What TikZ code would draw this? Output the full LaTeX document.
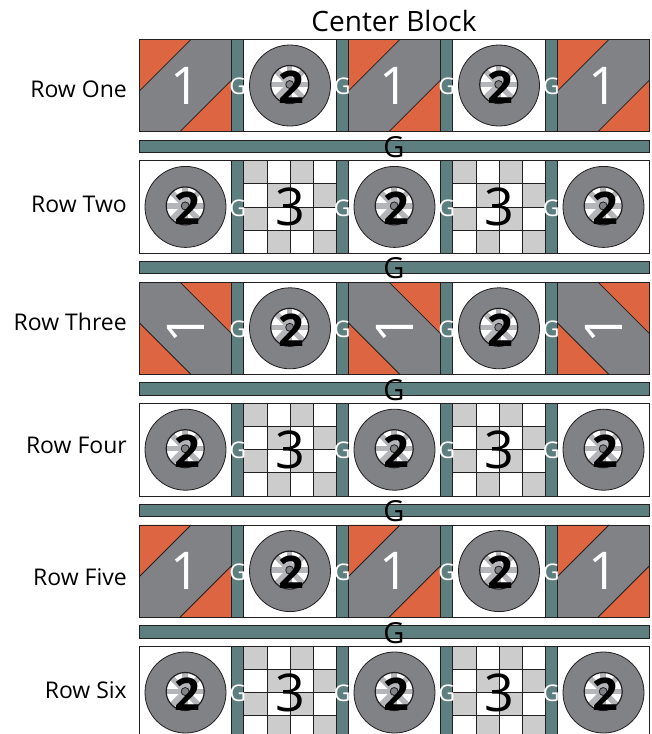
\documentclass[tikz,border=0pt]{standalone}
\usepackage{fontspec}
\setmainfont{Open Sans}
\definecolor{qgray}{RGB}{128,130,133}
\definecolor{qorange}{RGB}{222,101,65}
\definecolor{qteal}{RGB}{94,127,128}
\definecolor{qlight}{RGB}{204,204,204}
\definecolor{qspoke}{RGB}{180,181,184}
\definecolor{qline}{RGB}{35,31,32}
\tikzset{
  edge/.style={draw=qline,line width=0.8pt},
  one/.style={text=white,font=\fontsize{52}{52}\selectfont,inner sep=0pt},
  three/.style={text=black,font=\fontsize{52}{52}\selectfont,inner sep=0pt},
  two/.style={text=black,font=\fontsize{45}{45}\selectfont\bfseries,inner sep=0pt},
  gv/.style={text=white,font=\fontsize{23}{23}\selectfont,inner sep=0pt},
  gh/.style={text=black,font=\fontsize{29}{29}\selectfont,inner sep=0pt},
  lab/.style={text=black,font=\fontsize{23}{23}\selectfont,inner sep=0pt,anchor=east},
  ttl/.style={text=black,font=\fontsize{28}{28}\selectfont,inner sep=0pt,anchor=base},
}
\def\X{139.3}\def\BW{92.4}\def\SW{12.1}\def\Y{39.3}\def\RP{121.4}
% block 1, orientation A
\newcommand\blkA[1]{%
  \fill[qgray] (0,0) rectangle (\BW,\BW);
  \fill[qorange] (0,0) -- (0.56*\BW,0) -- (0,0.56*\BW) -- cycle;
  \fill[qorange] (\BW,\BW) -- (0.44*\BW,\BW) -- (\BW,0.44*\BW) -- cycle;
  \draw[edge] (0.56*\BW,0) -- (0,0.56*\BW);
  \draw[edge] (0.44*\BW,\BW) -- (\BW,0.44*\BW);
  \draw[edge] (0,0) rectangle (\BW,\BW);
  \node[one] (#1) at (0.5*\BW,0.5*\BW) {1};}
% block 1, orientation B (rotated)
\newcommand\blkB[1]{%
  \fill[qgray] (0,0) rectangle (\BW,\BW);
  \fill[qorange] (\BW,0) -- (0.44*\BW,0) -- (\BW,0.56*\BW) -- cycle;
  \fill[qorange] (0,\BW) -- (0,0.44*\BW) -- (0.56*\BW,\BW) -- cycle;
  \draw[edge] (0.44*\BW,0) -- (\BW,0.56*\BW);
  \draw[edge] (0,0.44*\BW) -- (0.56*\BW,\BW);
  \draw[edge] (0,0) rectangle (\BW,\BW);
  \node[one,rotate=90] (#1) at (0.5*\BW,0.5*\BW) {1};}
% block 2
\newcommand\blkT[1]{%
  \fill[white] (0,0) rectangle (\BW,\BW);
  \draw[edge] (0,0) rectangle (\BW,\BW);
  \draw[edge,fill=qgray] (0.5*\BW,0.5*\BW) circle[radius=40.5pt];
  \begin{scope}[shift={(0.5*\BW-0.3,0.5*\BW-1)}]
    \begin{scope}
      \clip (0,0) circle[radius=19pt];
      \fill[white] (0,0) circle[radius=19pt];
      \foreach \a in {0,45,90,135}
        \draw[qspoke,line width=5.5pt] (\a:20pt) -- (\a+180:20pt);
    \end{scope}
    \draw[qline,line width=1.2pt] (0,0) circle[radius=19pt];
    \draw[edge,fill=qgray] (0,0) circle[radius=4pt];
  \end{scope}
  \node[two] (#1) at (0.5*\BW+1.5,0.5*\BW+1.5) {2};}
% block 3
\newcommand\blkC[1]{%
  \fill[white] (0,0) rectangle (\BW,\BW);
  \foreach \r in {0,...,3}{\foreach \c in {0,...,3}{%
    \pgfmathtruncatemacro\pp{mod(\r+\c,2)}%
    \ifnum\pp=0 \fill[qlight] (\c*\BW/4,\r*\BW/4) rectangle (\c*\BW/4+\BW/4,\r*\BW/4+\BW/4);\fi}}
  \foreach \k in {1,2,3}{%
    \draw[edge] (\k*\BW/4,0) -- (\k*\BW/4,\BW);
    \draw[edge] (0,\k*\BW/4) -- (\BW,\k*\BW/4);}
  \draw[edge] (0,0) rectangle (\BW,\BW);
  \node[three] (#1) at (0.5*\BW,0.5*\BW) {3};}
\begin{document}
\begin{tikzpicture}[x=1pt,y=-1pt]
\useasboundingbox (0,0) rectangle (652,734);
\clip (0,0) rectangle (652,734);
\fill[white] (0,0) rectangle (652,734);
\node[ttl] (title) at (394,31) {Center Block};
\foreach \r/\kind/\lbl/\ly in {0/A/Row One/89,1/C/Row Two/204,2/B/Row Three/322,3/C/Row Four/445,4/A/Row Five/577,5/C/Row Six/690}{
  \pgfmathsetmacro\ry{\Y+\r*\RP}
  \node[lab] (label\r) at (127,\ly) {\lbl};
  \foreach \c in {0,...,4}{
    \pgfmathsetmacro\cx{\X+\c*(\BW+\SW)}
    \pgfmathtruncatemacro\odd{mod(\c,2)}
    \begin{scope}[shift={(\cx,\ry)}]
      \ifnum\odd=1
        \if C\kind \blkC{n\r\c}\else \blkT{n\r\c}\fi
      \else
        \if A\kind \blkA{n\r\c}\fi
        \if B\kind \blkB{n\r\c}\fi
        \if C\kind \blkT{n\r\c}\fi
      \fi
    \end{scope}
  }
  \foreach \c in {0,...,3}{
    \pgfmathsetmacro\sx{\X+\c*(\BW+\SW)+\BW}
    \draw[edge,fill=qteal] (\sx,\ry) rectangle (\sx+\SW,\ry+\BW);
    \node[gv] (g\r\c) at (\sx+0.5*\SW,\ry+0.5*\BW+1) {G};
  }
  \ifnum\r<5
    \draw[edge,fill=qteal] (\X,\ry+\BW+8.3) rectangle (\X+5*\BW+4*\SW,\ry+\BW+20.6);
    \node[gh] (h\r) at (394,\ry+\BW+15.5) {G};
  \fi
}
\end{tikzpicture}
\end{document}
